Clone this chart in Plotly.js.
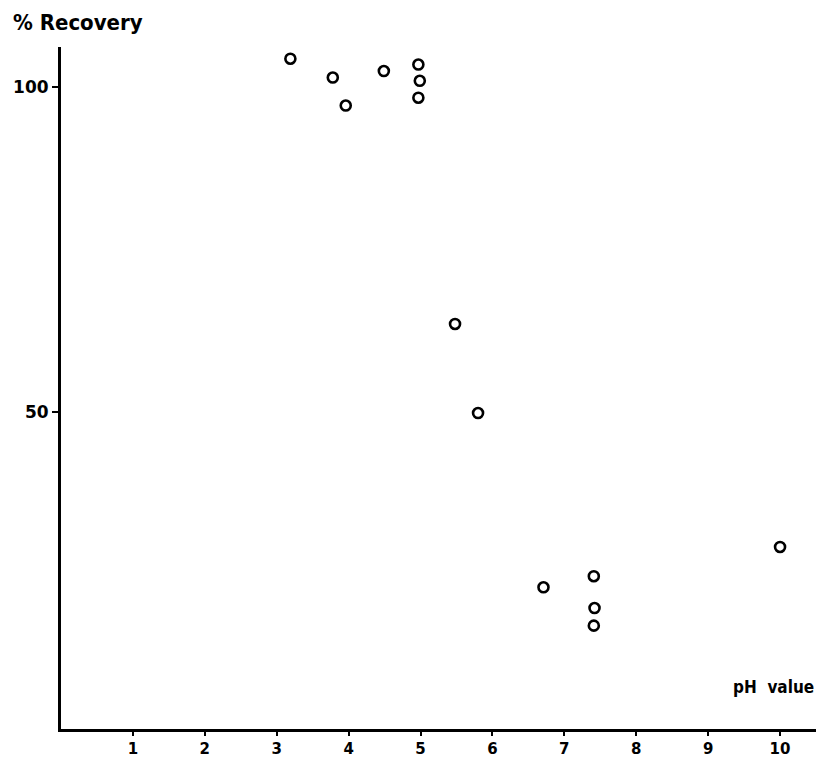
<!DOCTYPE html>
<html>
<head>
<meta charset="utf-8">
<script src="https://cdn.plot.ly/plotly-3.0.1.min.js"></script>
<style>
html,body{margin:0;padding:0;background:#fff;}
#chart{width:816px;height:760px;}
</style>
</head>
<body>
<div id="chart"></div>
<script>
// Data
const phValues = [3.19, 3.78, 3.96, 4.49, 4.97, 4.99, 4.97, 5.48, 5.80, 6.71, 7.41, 7.42, 7.41, 10.0];
const recovery = [104.4, 101.5, 97.2, 102.5, 103.5, 101.0, 98.4, 63.6, 49.9, 23.1, 24.8, 19.9, 17.2, 29.3];
const xTickVals = [1, 2, 3, 4, 5, 6, 7, 8, 9, 10];
const xTickText = ["1", "2", "3", "4", "5", "6", "7", "8", "9", "10"];
const yTickVals = [50, 100];
const yTickText = ["50", "100"];

const font = "DejaVu Sans, Arial, sans-serif";
const condFont = "DejaVu Sans Condensed, DejaVu Sans, Arial, sans-serif";

const trace = {
  x: phValues,
  y: recovery,
  type: "scatter",
  mode: "markers",
  marker: {
    symbol: "circle-open",
    size: 10,
    color: "#000",
    line: {width: 2.6, color: "#000"}
  },
  hoverinfo: "skip",
  showlegend: false
};

const layout = {
  width: 816,
  height: 760,
  paper_bgcolor: "#fff",
  plot_bgcolor: "#fff",
  margin: {l: 61, r: 0, t: 47, b: 31},
  font: {family: font, color: "#000", size: 16},
  xaxis: {
    range: [0, 10.5],
    showgrid: false,
    zeroline: false,
    showline: true,
    linecolor: "#000",
    linewidth: 3,
    ticks: "outside",
    ticklen: 4,
    tickwidth: 2,
    tickcolor: "#000",
    tickvals: xTickVals,
    ticktext: xTickText,
    ticklabelstandoff: 0,
    tickfont: {family: font, size: 15, color: "#000", weight: "bold"}
  },
  yaxis: {
    range: [1.3, 106.2],
    showgrid: false,
    zeroline: false,
    showline: true,
    linecolor: "#000",
    linewidth: 3,
    ticks: "outside",
    ticklen: 6,
    tickwidth: 2,
    tickcolor: "#000",
    tickvals: yTickVals,
    ticktext: yTickText,
    tickfont: {family: font, size: 17, color: "#000", weight: "bold"}
  },
  annotations: [
    {
      text: "% Recovery",
      xref: "paper", yref: "paper",
      x: -0.066, y: 1.0,
      xanchor: "left", yanchor: "bottom",
      yshift: 10,
      showarrow: false,
      font: {family: condFont, size: 22, color: "#000", weight: "bold"}
    },
    {
      text: "pH&nbsp;&nbsp;value",
      xref: "paper", yref: "paper",
      x: 1.0, y: 0.061,
      xanchor: "right", yanchor: "middle",
      showarrow: false,
      font: {family: condFont, size: 17, color: "#000", weight: "bold"}
    }
  ]
};

Plotly.newPlot("chart", [trace], layout, {displayModeBar: false, staticPlot: true});
</script>
</body>
</html>
